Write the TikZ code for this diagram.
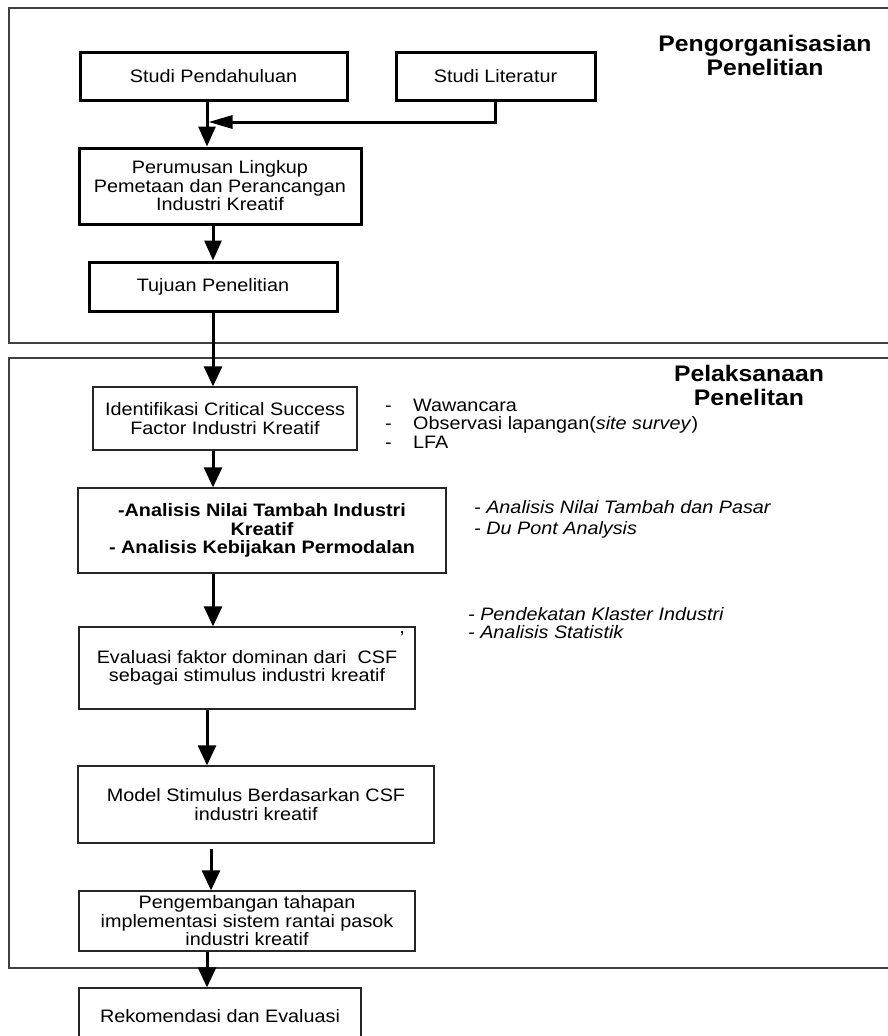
\documentclass[tikz,border=0pt]{standalone}
\usepackage{fontspec}
\setmainfont{Liberation Sans}[FakeStretch=1.1]
\usetikzlibrary{arrows.meta}
\newcommand\bxfont{\fontsize{18}{18.5}\selectfont}
\newcommand\ttlfont{\fontsize{22.5}{24}\selectfont\bfseries}
\tikzset{
  frame/.style={draw=black!75, line width=1.5pt},
  topbox/.style={draw=black, line width=3pt, inner sep=0pt, align=center, font=\bxfont},
  lowbox/.style={draw=black!85, line width=1.3pt, inner sep=0pt, align=center, font=\bxfont},
  arrT/.style={line width=3pt, -{Triangle[width=17pt,length=20pt]}},
  arrL/.style={line width=3pt, -{Triangle[width=18pt,length=20pt]}},
  arrH/.style={line width=3pt, -{Triangle[width=13pt,length=24pt]}},
  side/.style={anchor=mid west, inner sep=0pt, font=\bxfont},
  ttl/.style={align=center, inner sep=0pt, font=\ttlfont},
}
\begin{document}
\begin{tikzpicture}[x=1pt,y=-1pt]
\useasboundingbox (0,0) rectangle (888,1036);
\fill[white] (0,0) rectangle (888,1036);
% frames
\draw[frame] (9,8) rectangle (896,343);
\draw[frame] (9,358) rectangle (896,968);
% helper x positions
\coordinate (x207) at (207,0);
\coordinate (x211) at (211,0);
\coordinate (x213) at (213,0);
% titles
\node[ttl] (t1) at (765,55) {Pengorganisasian\\Penelitian};
\node[ttl] (t2) at (749,385) {Pelaksanaan\\Penelitan};
% top section boxes
\node[topbox, minimum width=267pt, minimum height=48pt] (sp) at (213.5,76) {Studi Pendahuluan};
\node[topbox, minimum width=199pt, minimum height=48pt] (sl) at (495.5,76) {Studi Literatur};
\node[topbox, minimum width=282pt, minimum height=76pt] (pl) at (220,186) {Perumusan Lingkup\\Pemetaan dan Perancangan\\Industri Kreatif};
\node[topbox, minimum width=248pt, minimum height=49pt] (tp) at (213,286.5) {Tujuan Penelitian};
% lower section boxes
\node[lowbox, minimum width=264pt, minimum height=63pt] (id) at (225,418.5) {Identifikasi Critical Success\\Factor Industri Kreatif};
\node[lowbox, minimum width=368pt, minimum height=85pt, font=\bxfont\bfseries] (an) at (262,530.5) {-Analisis Nilai Tambah Industri\\Kreatif\\- Analisis Kebijakan Permodalan};
\node[lowbox, minimum width=336pt, minimum height=82pt] (ev) at (247,668) {Evaluasi faktor dominan dari\ \ CSF\\sebagai stimulus industri kreatif};
\node[lowbox, minimum width=356pt, minimum height=77pt] (mo) at (256,804.5) {Model Stimulus Berdasarkan CSF\\industri kreatif};
\node[lowbox, minimum width=336pt, minimum height=60pt] (pe) at (247,921) {Pengembangan tahapan\\implementasi sistem rantai pasok\\industri kreatif};
\node[lowbox, minimum width=282pt, minimum height=56pt] (re) at (220,1016) {Rekomendasi dan Evaluasi};
\node[inner sep=0pt, font=\bxfont] (cm) at (402,634) {,};
% side notes
\node[side] (w1) at (385,409) {\makebox[28pt][l]{-}Wawancara};
\node[side] (w2) at (385,427) {\makebox[28pt][l]{-}Observasi lapangan(\textit{site survey})};
\node[side] (w3) at (385,446) {\makebox[28pt][l]{-}LFA};
\node[side, font=\bxfont\itshape] (m1) at (474,511) {- Analisis Nilai Tambah dan Pasar};
\node[side, font=\bxfont\itshape] (m2) at (474,532) {- Du Pont Analysis};
\node[side, font=\bxfont\itshape] (m3) at (468,618) {- Pendekatan Klaster Industri};
\node[side, font=\bxfont\itshape] (m4) at (468,636) {- Analisis Statistik};
% connectors
\coordinate (j) at (208.5,122);
\draw[arrT] (sp.south -| x207) -- (pl.north -| x207);
\draw[arrH] (sl.south) |- (j);
\draw[arrT] (pl.south -| x213) -- (tp.north -| x213);
\draw[arrL] (tp.south -| x213) -- (id.north -| x213);
\draw[arrL] (id.south -| x213) -- (an.north -| x213);
\draw[arrL] (an.south -| x213) -- (ev.north -| x213);
\draw[arrL] (ev.south -| x207) -- (mo.north -| x207);
\draw[arrL] ([yshift=-5pt]mo.south -| x211) -- (pe.north -| x211);
\draw[arrL] (pe.south -| x207) -- (re.north -| x207);
\end{tikzpicture}
\end{document}
